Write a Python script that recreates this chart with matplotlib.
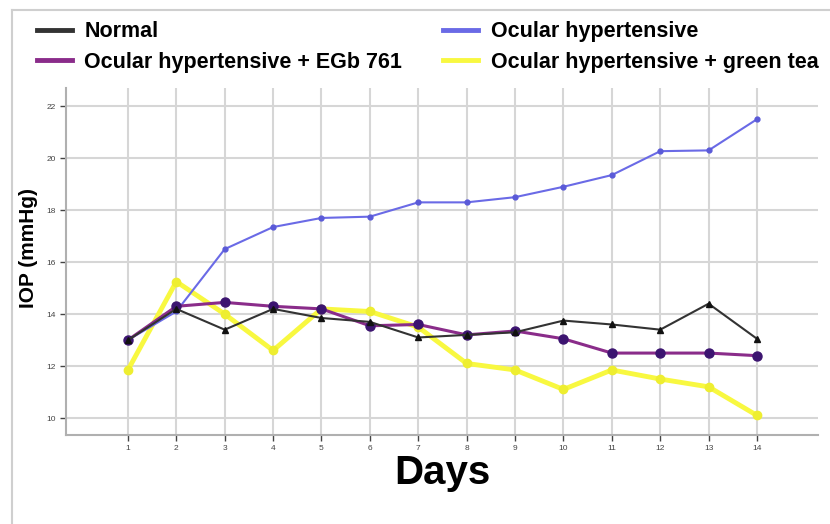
import matplotlib
matplotlib.use("Agg")
import matplotlib.pyplot as plt
from matplotlib.lines import Line2D

plt.rcParams['font.family'] = ['Liberation Sans', 'DejaVu Sans']

# data
days = list(range(1, 15))
normal = [13.0, 14.2, 13.4, 14.2, 13.85, 13.7, 13.1, 13.2, 13.3, 13.75, 13.6, 13.4, 14.4, 13.05]
ocular_ht = [13.0, 14.1, 16.5, 17.35, 17.7, 17.75, 18.3, 18.3, 18.5, 18.9, 19.35, 20.27, 20.3, 21.5]
ht_egb = [13.0, 14.3, 14.45, 14.3, 14.2, 13.55, 13.6, 13.2, 13.35, 13.05, 12.5, 12.5, 12.5, 12.4]
ht_tea = [11.85, 15.25, 14.0, 12.6, 14.2, 14.1, 13.5, 12.1, 11.85, 11.1, 11.85, 11.5, 11.2, 10.1]
y_ticks = [10, 12, 14, 16, 18, 20, 22]

fig = plt.figure(figsize=(8.3, 5.24), dpi=100)
ax = fig.add_axes([0.0795, 0.170, 0.906, 0.662])

# thin grey frame of the original screenshot
fig.add_artist(Line2D([12 / 830, 12 / 830], [0, 1 - 10 / 524], color='#cfcfcf', lw=1.5))
fig.add_artist(Line2D([12 / 830, 1], [1 - 10 / 524, 1 - 10 / 524], color='#cfcfcf', lw=1.5))

ax.plot(days, ocular_ht, color='#6a6ae6', lw=1.5, marker='o', ms=3.5,
        mfc='#5a5ad8', mec='#5a5ad8', zorder=3)
ax.plot(days, ht_tea, color='#f8f840', lw=3.5, marker='o', ms=6,
        mfc='#eeee30', mec='#eeee30', zorder=2)
ax.plot(days, ht_egb, color='#8a2c8a', lw=2.2, marker='o', ms=6.5,
        mfc='#3c1470', mec='#3c1470', zorder=4)
ax.plot(days, normal, color='#333333', lw=1.5, marker='^', ms=4,
        mfc='#111111', mec='#111111', zorder=5)

ax.set_xlim(-0.28, 15.26)
ax.set_ylim(9.35, 22.7)
ax.set_xticks(days)
ax.set_yticks(y_ticks)
ax.tick_params(labelsize=6, colors='#444444', length=4, width=1)
ax.grid(True, color='#d6d6d6', lw=1.5)
ax.set_axisbelow(True)
for side in ['top', 'right']:
    ax.spines[side].set_visible(False)
for side in ['left', 'bottom']:
    ax.spines[side].set_color('#b0b0b0')
    ax.spines[side].set_linewidth(1.5)

ax.set_xlabel('Days', fontsize=29, fontweight='bold', labelpad=1)
ax.set_ylabel('IOP (mmHg)', fontsize=15, fontweight='bold')
ax.yaxis.set_label_coords(-0.037, 0.54)

handles = [
    Line2D([], [], color='#333333', lw=3.5),
    Line2D([], [], color='#8a2c8a', lw=3.5),
    Line2D([], [], color='#6a6ae6', lw=3.5),
    Line2D([], [], color='#f8f840', lw=3.5),
]
labels = ['Normal', 'Ocular hypertensive + EGb 761',
          'Ocular hypertensive', 'Ocular hypertensive + green tea']
fig.legend(handles, labels, loc='upper left', bbox_to_anchor=(22 / 830, 1 - 6 / 524),
           ncol=2, frameon=False, prop={'size': 15.5, 'weight': 'bold'},
           handlelength=1.6, handletextpad=0.6, columnspacing=1.9,
           labelspacing=0.45, borderpad=0.2)

fig.savefig('out.png', dpi=100)
